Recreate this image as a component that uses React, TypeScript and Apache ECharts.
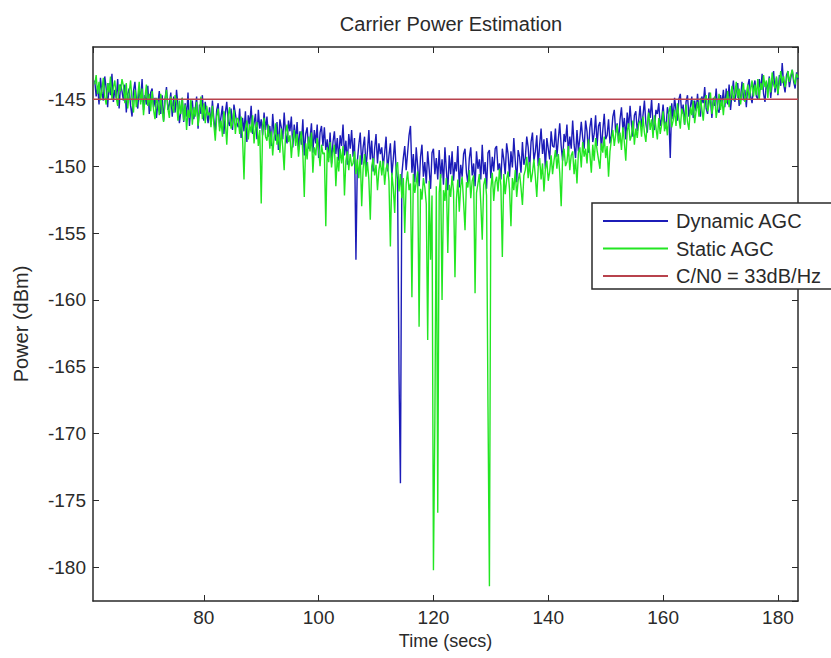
import { useEffect, useRef } from "react";
import * as echarts from "echarts";

// Sampling grid of both AGC traces (seconds)
const TIME_START = 61;
const TIME_STEP = 0.25;

// Axis extents
const TIME_RANGE = [60.7, 183.5];
const POWER_RANGE = [-182.5, -141.1];
const X_TICK_STEP = 20;
const Y_TICK_STEP = 5;

// C/N0 = 33 dB/Hz reference level (dBm)
const CN0_LEVEL = -145;

const TITLE = "Carrier Power Estimation";
const X_NAME = "Time (secs)";
const Y_NAME = "Power (dBm)";
const SERIES_NAMES = ["Dynamic AGC", "Static AGC", "C/N0 = 33dB/Hz"];

// Dynamic AGC carrier power estimate (dBm), 20 samples (5 s) per row
const dynamicAgc = [
  -143.6, -144.8, -144.0, -145.4, -143.4, -144.5, -145.1, -143.3, -144.2, -145.6, -143.8, -144.7, -143.1, -145.2, -144.3, -144.9, -143.5, -145.7, -143.9, -144.4,
  -145.1, -143.9, -146.0, -144.6, -144.2, -145.5, -146.3, -144.4, -143.7, -145.0, -145.7, -144.1, -145.2, -143.5, -145.8, -144.7, -145.4, -144.0, -146.1, -144.5,
  -144.2, -145.6, -144.9, -146.4, -145.3, -144.4, -146.1, -144.7, -146.6, -145.0, -144.1, -145.8, -145.4, -144.5, -146.3, -144.8, -146.0, -144.3, -145.5, -146.8,
  -145.9, -144.9, -146.7, -145.3, -146.3, -144.5, -147.0, -145.6, -145.1, -146.5, -145.8, -144.8, -147.2, -145.4, -146.1, -144.7, -146.6, -145.2, -146.0, -146.8,
  -145.6, -146.9, -145.1, -146.5, -147.4, -145.8, -145.3, -147.1, -146.3, -145.5, -147.6, -146.0, -145.2, -146.7, -147.0, -145.7, -147.3, -145.4, -146.1, -146.8,
  -147.1, -145.7, -147.9, -146.4, -147.4, -145.9, -148.2, -146.2, -146.9, -145.5, -147.6, -146.8, -146.1, -148.0, -145.8, -147.2, -146.5, -147.7, -146.0, -147.3,
  -146.3, -147.8, -147.0, -148.5, -146.1, -147.5, -148.1, -146.7, -148.8, -146.5, -147.1, -148.0, -146.0, -147.6, -148.3, -146.6, -147.4, -146.3, -148.6, -146.9,
  -148.1, -146.7, -148.8, -147.4, -148.4, -146.5, -149.2, -147.6, -147.1, -148.7, -148.0, -146.8, -149.0, -147.3, -148.3, -146.9, -149.4, -147.5, -147.0, -148.5,
  -147.1, -148.8, -148.0, -149.4, -147.5, -149.8, -148.2, -147.4, -149.1, -147.9, -149.6, -147.7, -148.5, -146.9, -149.2, -148.1, -149.9, -147.6, -148.7, -147.3,
  -149.3, -147.9, -157.0, -149.6, -148.4, -147.5, -149.9, -148.6, -147.8, -150.2, -148.9, -147.3, -149.5, -148.1, -150.4, -148.7, -147.6, -149.8, -148.3, -149.1,
  -148.6, -150.1, -149.0, -147.8, -150.4, -149.2, -148.3, -150.7, -149.5, -148.1, -150.2, -151.0, -165.5, -173.7, -150.6, -149.4, -148.5, -150.3, -149.0, -147.7,
  -147.0, -150.5, -149.1, -151.2, -148.6, -150.0, -151.5, -149.3, -148.4, -150.8, -149.7, -151.3, -148.9, -150.2, -151.7, -149.0, -148.7, -150.6, -149.4, -151.0,
  -148.8, -150.9, -149.5, -151.4, -148.6, -150.3, -151.8, -149.2, -150.6, -148.9, -151.1, -149.7, -150.4, -148.5, -151.6, -149.9, -150.8, -149.1, -148.7, -150.5,
  -151.3, -149.4, -148.6, -150.7, -149.8, -151.5, -148.9, -150.2, -149.5, -151.0, -148.4, -150.6, -149.7, -151.7, -149.0, -148.8, -150.9, -149.3, -150.4, -148.7,
  -148.5, -150.3, -149.8, -151.0, -148.7, -149.5, -150.6, -148.3, -149.1, -150.8, -148.9, -150.1, -147.9, -149.6, -151.2, -148.8, -149.3, -150.5, -148.2, -149.9,
  -149.4, -147.8, -148.6, -150.3, -148.2, -147.5, -149.6, -148.9, -147.7, -150.0, -148.4, -147.2, -149.1, -148.0, -150.2, -147.9, -148.7, -149.5, -147.4, -148.5,
  -148.6, -147.2, -149.3, -148.0, -146.8, -148.5, -149.6, -147.6, -148.2, -146.9, -149.0, -147.8, -148.7, -146.6, -148.4, -149.4, -147.3, -148.9, -147.9, -146.7,
  -147.9, -148.7, -146.6, -147.4, -149.0, -147.1, -146.4, -148.2, -147.6, -146.2, -148.5, -147.0, -146.7, -148.8, -147.3, -146.1, -148.0, -147.7, -146.5, -148.3,
  -147.7, -146.3, -145.8, -147.5, -146.8, -148.2, -146.5, -145.6, -147.3, -146.4, -148.0, -146.0, -147.1, -145.5, -146.9, -147.8, -146.2, -145.9, -147.4, -146.6,
  -145.5, -147.1, -146.2, -145.1, -146.8, -147.5, -145.7, -146.4, -145.0, -146.9, -147.3, -145.8, -146.1, -145.3, -147.0, -146.5, -145.4, -146.7, -147.2, -145.6,
  -146.2, -149.4, -145.3, -146.5, -144.9, -145.8, -146.6, -145.0, -144.6, -146.1, -145.4, -146.9, -145.2, -144.7, -146.3, -145.6, -144.8, -146.4, -145.1, -145.9,
  -144.6, -145.9, -146.3, -144.8, -145.3, -144.1, -145.7, -146.1, -144.5, -145.0, -146.4, -144.9, -145.5, -144.2, -145.8, -146.0, -144.7, -145.4, -144.3, -145.6,
  -144.2, -145.4, -143.9, -145.8, -144.6, -143.6, -145.2, -144.4, -143.8, -145.5, -144.9, -143.7, -145.1, -144.3, -145.6, -144.0, -143.5, -144.8, -145.3, -144.1,
  -143.6, -144.8, -145.0, -143.5, -144.3, -143.1, -144.6, -145.2, -143.7, -144.4, -143.3, -144.9, -143.8, -142.9, -144.5, -143.4, -144.7, -143.2, -144.0, -142.3,
  -143.9, -144.5, -143.2, -142.9, -144.1, -143.4, -142.8, -143.7, -144.2, -143.0, -143.5,
];

// Static AGC carrier power estimate (dBm), 20 samples (5 s) per row
const staticAgc = [
  -143.9, -143.2, -144.6, -143.7, -145.1, -144.3, -143.4, -144.8, -145.4, -143.8, -144.5, -143.3, -145.0, -144.1, -143.6, -144.9, -145.5, -143.9, -144.4, -143.5,
  -144.0, -145.3, -143.8, -145.7, -144.5, -143.6, -145.1, -146.0, -144.3, -145.6, -144.8, -143.7, -145.4, -144.2, -146.2, -144.9, -143.9, -145.5, -144.6, -145.9,
  -144.4, -145.8, -146.5, -144.9, -145.3, -146.2, -144.6, -145.9, -146.7, -145.0, -144.3, -145.7, -146.4, -144.8, -145.5, -146.0, -144.7, -145.2, -146.6, -145.1,
  -146.1, -144.9, -146.6, -145.4, -147.3, -145.8, -146.4, -145.0, -146.9, -145.6, -146.3, -145.2, -147.0, -145.9, -144.8, -146.5, -145.3, -146.8, -145.5, -146.2,
  -146.0, -147.1, -145.5, -146.9, -148.1, -146.3, -145.7, -147.4, -146.6, -147.8, -145.9, -146.7, -148.4, -146.2, -145.6, -147.2, -146.8, -145.8, -147.6, -146.4,
  -146.5, -147.6, -146.3, -147.9, -151.0, -147.2, -146.6, -148.0, -146.9, -147.5, -146.2, -148.3, -147.1, -146.7, -148.5, -147.3, -152.8, -147.0, -146.4, -147.8,
  -148.1, -146.9, -148.7, -147.4, -149.2, -147.8, -146.8, -148.4, -147.6, -149.0, -147.2, -148.6, -150.3, -147.5, -146.9, -148.2, -147.7, -149.4, -148.0, -147.3,
  -148.5, -147.6, -149.3, -148.1, -147.4, -149.0, -152.3, -148.3, -149.5, -147.8, -148.9, -147.5, -150.5, -148.6, -149.2, -147.9, -148.8, -150.0, -148.4, -149.1,
  -149.0, -154.5, -148.6, -149.7, -148.2, -150.1, -149.0, -148.4, -151.5, -149.3, -150.4, -148.7, -149.8, -148.5, -152.2, -149.6, -148.9, -150.3, -149.1, -150.0,
  -149.8, -148.9, -150.6, -149.5, -150.9, -149.2, -153.0, -150.2, -149.1, -150.8, -149.7, -151.0, -154.0, -150.0, -149.4, -150.7, -149.9, -151.8, -150.3, -149.6,
  -150.7, -149.6, -151.4, -150.2, -149.8, -151.1, -156.0, -150.5, -151.6, -153.5, -150.1, -149.7, -151.9, -150.6, -152.4, -150.9, -155.0, -151.3, -150.4, -151.8,
  -151.3, -159.8, -150.6, -152.0, -151.2, -150.4, -162.0, -151.7, -152.5, -150.9, -151.6, -152.8, -163.0, -151.1, -157.0, -152.2, -180.2, -169.0, -151.5, -175.9,
  -152.0, -150.6, -160.0, -151.8, -152.6, -150.9, -156.5, -151.4, -152.3, -150.7, -151.9, -158.3, -152.5, -151.0, -153.4, -151.5, -150.8, -152.7, -154.8, -151.2,
  -151.6, -150.3, -152.4, -151.1, -150.7, -159.5, -152.0, -151.3, -150.6, -152.8, -155.5, -151.4, -150.9, -152.2, -168.0, -181.4, -151.7, -150.5, -152.6, -151.2,
  -150.8, -151.9, -150.2, -151.5, -156.8, -150.6, -152.1, -151.0, -150.4, -151.7, -154.5, -150.9, -151.8, -150.3, -152.3, -151.1, -150.5, -151.6, -152.9, -150.7,
  -150.3, -149.3, -150.9, -149.7, -151.2, -150.5, -149.5, -150.8, -152.3, -150.1, -149.4, -151.0, -149.8, -151.9, -150.2, -149.6, -151.1, -150.4, -149.2, -150.6,
  -149.6, -148.8, -150.2, -149.1, -150.5, -153.0, -149.4, -148.7, -150.0, -149.7, -148.5, -150.3, -149.2, -148.9, -150.6, -149.5, -151.3, -149.0, -148.6, -150.1,
  -148.2, -149.3, -148.7, -149.8, -148.0, -149.1, -150.5, -148.4, -149.6, -147.9, -148.8, -149.5, -150.2, -148.3, -149.0, -147.8, -149.4, -148.5, -150.8, -148.9,
  -148.0, -147.3, -148.5, -147.6, -146.9, -148.3, -147.5, -148.8, -147.1, -148.2, -149.6, -147.4, -146.8, -148.1, -147.7, -146.6, -148.4, -147.2, -147.9, -146.8,
  -146.6, -147.8, -146.3, -147.5, -148.2, -146.8, -146.0, -147.3, -146.5, -147.9, -146.2, -147.1, -148.0, -146.4, -147.6, -146.9, -145.9, -147.4, -146.7, -147.7,
  -146.0, -145.5, -147.1, -146.6, -145.8, -147.0, -145.3, -146.4, -147.2, -145.7, -146.1, -146.9, -145.4, -146.7, -147.3, -145.6, -146.2, -145.1, -146.8, -145.9,
  -145.2, -146.3, -144.9, -145.7, -146.6, -145.1, -144.7, -145.9, -145.4, -144.5, -146.1, -145.3, -144.8, -146.4, -145.6, -144.6, -145.8, -145.0, -146.2, -144.9,
  -145.3, -144.4, -145.6, -144.8, -144.0, -145.1, -144.6, -143.7, -144.9, -144.2, -145.4, -144.5, -143.8, -145.2, -144.7, -143.9, -145.0, -144.3, -143.6, -144.8,
  -143.9, -144.7, -143.5, -145.0, -143.8, -144.3, -143.2, -144.1, -143.6, -144.9, -143.4, -144.5, -143.0, -143.9, -144.2, -143.3, -144.6, -143.7, -142.9, -143.8,
  -143.3, -144.1, -143.6, -142.9, -143.7, -143.2, -142.8, -143.5, -143.9, -143.1, -143.4,
];

const COLORS = ["#1c1cb8", "#22e622", "#b8424c"];
const INK = "#2a2a2a";
const FONT = '"Liberation Sans", Arial, Helvetica, sans-serif';

const withTime = (values: number[]) =>
  values.map((v, i) => [TIME_START + i * TIME_STEP, v]);

function buildOption(): echarts.EChartsOption {
  const axisLine = { show: true, lineStyle: { color: INK, width: 1.5 } };
  const axisTick = { show: true, inside: true, length: 6, lineStyle: { color: INK, width: 1 } };
  const tickLabel = {
    color: INK,
    fontFamily: FONT,
    fontSize: 19,
    showMinLabel: false,
    showMaxLabel: false,
  };

  const xBase = {
    type: "value" as const,
    min: TIME_RANGE[0],
    max: TIME_RANGE[1],
    minInterval: X_TICK_STEP,
    maxInterval: X_TICK_STEP,
    splitLine: { show: false },
    axisLine,
    axisTick,
  };
  const yBase = {
    type: "value" as const,
    min: POWER_RANGE[0],
    max: POWER_RANGE[1],
    minInterval: Y_TICK_STEP,
    maxInterval: Y_TICK_STEP,
    splitLine: { show: false },
    axisLine,
    axisTick,
  };

  return {
    animation: false,
    backgroundColor: "#ffffff",
    title: {
      text: TITLE,
      left: 446,
      top: 9,
      textAlign: "center",
      textStyle: { color: INK, fontFamily: FONT, fontSize: 20, fontWeight: "normal" },
    },
    grid: { left: 93, right: 33, top: 47, bottom: 57 },
    legend: {
      orient: "vertical",
      left: 592,
      top: 203,
      padding: [8, 40, 3, 11],
      itemGap: 7.5,
      itemWidth: 65,
      itemHeight: 2,
      icon: "rect",
      backgroundColor: "#ffffff",
      borderColor: INK,
      borderWidth: 1.5,
      borderRadius: 0,
      textStyle: { color: INK, fontFamily: FONT, fontSize: 20, padding: [0, 0, 0, 3] },
      data: SERIES_NAMES,
    },
    xAxis: [
      {
        ...xBase,
        position: "bottom",
        name: X_NAME,
        nameLocation: "middle",
        nameGap: 30,
        nameTextStyle: { color: INK, fontFamily: FONT, fontSize: 18 },
        axisLabel: { ...tickLabel, margin: 7 },
      },
      { ...xBase, position: "top", axisLabel: { show: false } },
    ],
    yAxis: [
      {
        ...yBase,
        position: "left",
        name: Y_NAME,
        nameLocation: "middle",
        nameGap: 62,
        nameTextStyle: { color: INK, fontFamily: FONT, fontSize: 20 },
        axisLabel: { ...tickLabel, margin: 7 },
      },
      { ...yBase, position: "right", axisLabel: { show: false } },
    ],
    series: [
      {
        name: SERIES_NAMES[0],
        type: "line",
        data: withTime(dynamicAgc),
        showSymbol: false,
        symbol: "none",
        lineStyle: { color: COLORS[0], width: 1.4 },
        itemStyle: { color: COLORS[0] },
        z: 2,
      },
      {
        name: SERIES_NAMES[1],
        type: "line",
        data: withTime(staticAgc),
        showSymbol: false,
        symbol: "none",
        lineStyle: { color: COLORS[1], width: 1.4 },
        itemStyle: { color: COLORS[1] },
        z: 3,
      },
      {
        name: SERIES_NAMES[2],
        type: "line",
        data: [
          [TIME_RANGE[0], CN0_LEVEL],
          [TIME_RANGE[1], CN0_LEVEL],
        ],
        showSymbol: false,
        symbol: "none",
        lineStyle: { color: COLORS[2], width: 1.5 },
        itemStyle: { color: COLORS[2] },
        z: 4,
      },
    ],
  };
}

export default function App() {
  const ref = useRef<HTMLDivElement>(null);

  useEffect(() => {
    if (!ref.current) return;
    const chart = echarts.init(ref.current, undefined, { renderer: "svg" });
    chart.setOption(buildOption());
    return () => chart.dispose();
  }, []);

  return (
    <div
      ref={ref}
      style={{ position: "fixed", left: 0, top: 0, width: 831, height: 658, background: "#fff" }}
    />
  );
}
